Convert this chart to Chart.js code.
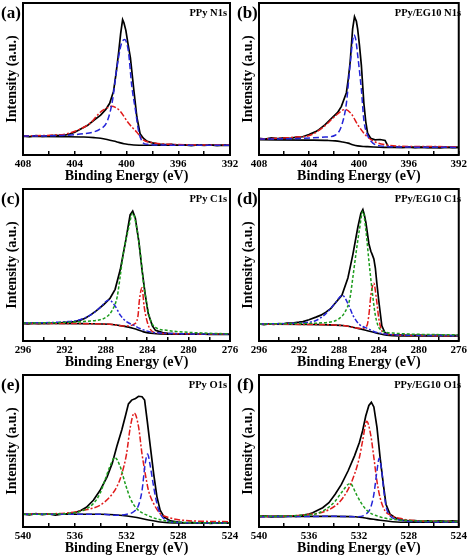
<!DOCTYPE html>
<html><head><meta charset="utf-8">
<script src="https://cdn.jsdelivr.net/npm/chart.js@4/dist/chart.umd.min.js"></script>
<style>
html,body{margin:0;padding:0;background:#fff}
body{width:474px;height:558px;position:relative;overflow:hidden;font-family:'Liberation Serif','Times New Roman',serif;font-weight:bold;color:#000}
canvas{position:absolute;display:block}
.tag{position:absolute;font-size:17px;line-height:18px;white-space:nowrap}
.nm{position:absolute;font-size:10.5px;line-height:12px;white-space:nowrap;text-align:right}
</style></head>
<body>
<script>
// ---------- data: [binding energy (eV), intensity (a.u., normalised)] ----------
// (a) PPy N1s
const aData=[[408,0.125],[407.5,0.12],[407,0.128],[406.5,0.122],[406,0.126],[405.5,0.13],[405,0.127],[404.5,0.135],[404,0.15],[403.5,0.172],[403,0.195],[402.5,0.23],[402,0.262],[401.6,0.3],[401.3,0.34],[401.0,0.42],[400.8,0.54],[400.6,0.68],[400.45,0.8],[400.3,0.89],[400.2,0.87],[400.05,0.82],[399.9,0.74],[399.7,0.64],[399.45,0.44],[399.2,0.25],[398.95,0.14],[398.7,0.11],[398.4,0.09],[398,0.08],[397.5,0.072],[397,0.068],[396.5,0.07],[396,0.064],[395.5,0.066],[395,0.062],[394.5,0.066],[394,0.063],[393.5,0.067],[393,0.062],[392.5,0.065],[392,0.063]];
const aBg=[[408,0.122],[405,0.12],[403.3,0.118],[402.5,0.114],[402,0.11],[401.5,0.102],[401,0.092],[400.6,0.083],[400.2,0.074],[399.8,0.069],[399.45,0.066],[398.5,0.064],[392,0.064]];
const aBlue=[[408,0.125],[406,0.126],[404.6,0.13],[403.3,0.14],[402.6,0.15],[402.05,0.17],[401.5,0.22],[401.1,0.35],[400.75,0.57],[400.4,0.73],[400.15,0.76],[399.85,0.68],[399.6,0.46],[399.3,0.29],[399.07,0.16],[398.8,0.09],[398.4,0.07],[397,0.065],[392,0.064]];
const aRed=[[408,0.125],[405.9,0.13],[404.6,0.14],[403.6,0.17],[402.8,0.21],[402.05,0.28],[401.5,0.31],[401.15,0.32],[400.8,0.31],[400.5,0.29],[399.85,0.21],[399.2,0.15],[398.7,0.10],[397.9,0.08],[396.5,0.07],[392,0.065]];
// (b) PPy/EG10 N1s
const bData=[[408,0.11],[407.5,0.105],[407,0.112],[406.5,0.108],[406,0.113],[405.5,0.11],[405,0.117],[404.5,0.12],[404,0.135],[403.5,0.152],[403.2,0.167],[402.7,0.2],[402.15,0.245],[401.7,0.28],[401.4,0.32],[401.0,0.41],[400.85,0.5],[400.7,0.61],[400.5,0.83],[400.35,0.91],[400.2,0.88],[400.1,0.83],[399.95,0.72],[399.8,0.59],[399.6,0.34],[399.45,0.22],[399.3,0.144],[399.06,0.11],[398.7,0.1],[398.3,0.102],[397.9,0.096],[397.65,0.055],[397.2,0.052],[396.5,0.05],[396,0.053],[395.5,0.048],[395,0.052],[394.5,0.049],[394,0.05],[393.5,0.047],[393,0.051],[392.5,0.048],[392,0.05]];
const bBg=[[408,0.1],[404,0.098],[402.5,0.096],[401.9,0.093],[401.3,0.085],[400.86,0.078],[400.5,0.068],[400.1,0.06],[399.6,0.056],[399.3,0.055],[398,0.05],[392,0.05]];
const bBlue=[[408,0.105],[405,0.108],[402.7,0.118],[401.9,0.13],[401.4,0.19],[401.0,0.34],[400.73,0.57],[400.5,0.75],[400.4,0.79],[400.25,0.76],[400.1,0.66],[399.8,0.43],[399.6,0.23],[399.3,0.13],[398.9,0.08],[398.3,0.06],[396,0.052],[392,0.05]];
const bRed=[[408,0.105],[405,0.118],[403.9,0.13],[402.9,0.18],[401.9,0.256],[401.4,0.29],[401.1,0.30],[400.6,0.27],[400.1,0.2],[399.45,0.13],[398.8,0.09],[397.8,0.067],[396,0.056],[392,0.055]];
// (c) PPy C1s
const cData=[[296,0.116],[295.5,0.112],[295,0.118],[294.5,0.114],[294,0.117],[293.5,0.115],[293,0.12],[292.5,0.118],[292,0.122],[291.5,0.124],[291,0.128],[290.5,0.136],[290,0.15],[289.5,0.17],[288.9,0.2],[288.2,0.24],[287.6,0.28],[287.1,0.34],[286.6,0.47],[286.1,0.65],[285.65,0.83],[285.4,0.855],[285.15,0.81],[284.8,0.65],[284.5,0.47],[284.2,0.31],[283.9,0.18],[283.5,0.1],[283.2,0.07],[282.5,0.055],[282,0.05],[281,0.047],[280,0.045],[279,0.046],[278,0.043],[277,0.045],[276,0.043]];
const cBg=[[296,0.116],[290,0.114],[287.6,0.11],[286.3,0.098],[285.3,0.082],[284.35,0.06],[283.4,0.049],[282,0.045],[276,0.044]];
const cGreen=[[296,0.118],[292,0.122],[289.85,0.13],[288.55,0.14],[287.9,0.16],[287.4,0.2],[286.9,0.29],[286.6,0.43],[286.3,0.58],[285.8,0.74],[285.4,0.84],[285.0,0.74],[284.67,0.58],[284.35,0.38],[284.0,0.23],[283.7,0.14],[283.2,0.09],[282.1,0.07],[278.8,0.053],[276,0.047]];
const cBlue=[[296,0.118],[291.8,0.127],[290.5,0.14],[289.5,0.17],[288.55,0.22],[287.7,0.27],[287.1,0.23],[286.6,0.17],[286.0,0.127],[285.3,0.104],[284.7,0.082],[283.7,0.06],[282,0.05],[276,0.045]];
const cRed=[[296,0.116],[290,0.114],[287.6,0.11],[286.0,0.098],[285.3,0.11],[284.9,0.16],[284.75,0.27],[284.5,0.35],[284.3,0.23],[284.0,0.127],[283.7,0.076],[283.05,0.053],[280,0.047],[276,0.046]];
// (d) PPy/EG10 C1s
const dData=[[296,0.112],[295.5,0.108],[295,0.113],[294.5,0.11],[294,0.115],[293.5,0.113],[293.2,0.117],[292.5,0.12],[292,0.124],[291.6,0.128],[291,0.14],[290.3,0.157],[289.8,0.17],[289.3,0.19],[288.8,0.215],[288.4,0.247],[287.7,0.3],[287.1,0.415],[286.6,0.57],[286.1,0.75],[285.8,0.84],[285.6,0.865],[285.45,0.83],[285.3,0.78],[285.0,0.64],[284.8,0.59],[284.67,0.57],[284.5,0.54],[284.35,0.48],[284.2,0.38],[284.0,0.26],[283.7,0.10],[283.4,0.056],[283,0.042],[282,0.04],[281,0.037],[280,0.038],[279,0.036],[278,0.038],[277,0.035],[276,0.037]];
const dBg=[[296,0.11],[290,0.108],[287.4,0.1],[286.1,0.083],[285.15,0.067],[284.2,0.052],[283.2,0.038],[282,0.034],[276,0.034]];
const dGreen=[[296,0.112],[292,0.115],[289.0,0.124],[288.0,0.146],[287.4,0.19],[286.9,0.28],[286.6,0.42],[286.3,0.57],[285.95,0.73],[285.6,0.854],[285.3,0.73],[285.0,0.53],[284.67,0.33],[284.35,0.17],[283.9,0.079],[282.6,0.052],[276,0.04]];
const dBlue=[[296,0.112],[291.6,0.12],[290.3,0.135],[289.3,0.18],[288.4,0.247],[287.65,0.30],[287.1,0.247],[286.6,0.17],[286.0,0.112],[285.15,0.083],[284.2,0.056],[282,0.04],[276,0.035]];
const dRed=[[296,0.11],[290,0.108],[287.4,0.1],[285.8,0.083],[285.2,0.10],[285.0,0.17],[284.8,0.30],[284.5,0.38],[284.25,0.28],[284.0,0.146],[283.7,0.067],[283.2,0.045],[280,0.036],[276,0.035]];
// (e) PPy O1s
const eData=[[540,0.084],[539.5,0.08],[539,0.088],[538.5,0.082],[538,0.086],[537.5,0.078],[537,0.084],[536.5,0.088],[536,0.094],[535.5,0.11],[535.1,0.13],[534.56,0.176],[534.05,0.24],[533.5,0.33],[533.1,0.42],[532.75,0.53],[532.36,0.64],[532.1,0.725],[531.85,0.81],[531.6,0.835],[531.3,0.846],[531.07,0.86],[530.8,0.857],[530.6,0.835],[530.4,0.7],[530.16,0.53],[529.9,0.35],[529.65,0.2],[529.4,0.11],[529.1,0.066],[528.6,0.04],[528,0.032],[527.5,0.028],[527,0.03],[526.5,0.025],[526,0.028],[525.5,0.024],[525,0.027],[524.5,0.025],[524,0.026]];
const eBg=[[540,0.084],[534,0.084],[532.5,0.077],[531.45,0.066],[530.4,0.048],[529.4,0.033],[528.35,0.026],[524,0.026]];
const eGreen=[[540,0.084],[536.6,0.088],[535.34,0.11],[534.56,0.154],[534.05,0.22],[533.66,0.31],[533.27,0.4],[532.9,0.457],[532.5,0.4],[532.1,0.286],[531.7,0.187],[531.2,0.12],[530.4,0.077],[529.4,0.048],[528.35,0.033],[524,0.026]];
const eRed=[[540,0.084],[536.6,0.092],[535.34,0.11],[534.05,0.143],[533.27,0.2],[532.75,0.264],[532.36,0.35],[532.0,0.48],[531.7,0.66],[531.4,0.75],[531.07,0.66],[530.8,0.48],[530.55,0.35],[530.3,0.24],[529.9,0.154],[529.4,0.088],[528.87,0.066],[527.6,0.044],[524,0.035]];
const eBlue=[[540,0.084],[534,0.084],[532.75,0.077],[531.97,0.084],[531.45,0.1],[531.07,0.143],[530.8,0.24],[530.55,0.42],[530.37,0.48],[530.16,0.40],[529.9,0.264],[529.65,0.154],[529.4,0.088],[529.0,0.048],[528,0.03],[524,0.026]];
// (f) PPy/EG10 O1s
const fData=[[540,0.068],[539.5,0.072],[539,0.066],[538.5,0.07],[538,0.068],[537.5,0.073],[537,0.07],[536.46,0.079],[536,0.085],[535.7,0.094],[534.9,0.127],[534.4,0.16],[533.9,0.215],[533.4,0.28],[532.86,0.37],[532.35,0.468],[531.96,0.556],[531.7,0.633],[531.45,0.73],[531.2,0.8],[531.0,0.82],[530.8,0.79],[530.55,0.655],[530.3,0.457],[530.04,0.28],[529.83,0.15],[529.5,0.084],[529.0,0.057],[528.5,0.045],[528,0.04],[527.5,0.042],[527,0.038],[526.5,0.041],[526,0.037],[525.5,0.04],[525,0.038],[524.5,0.04],[524,0.038]];
const fBg=[[540,0.07],[534,0.07],[532.3,0.067],[531.3,0.057],[530.3,0.044],[529.3,0.035],[528,0.031],[524,0.031]];
const fGreen=[[540,0.07],[535.7,0.083],[534.66,0.116],[533.9,0.17],[533.4,0.226],[532.7,0.286],[532.2,0.215],[531.83,0.16],[531.3,0.105],[530.55,0.073],[529.27,0.05],[524,0.035]];
const fRed=[[540,0.068],[536.46,0.079],[534.66,0.105],[533.6,0.16],[532.86,0.248],[532.35,0.347],[531.96,0.457],[531.7,0.567],[531.37,0.695],[531.06,0.61],[530.8,0.457],[530.55,0.30],[530.3,0.193],[529.9,0.105],[529.5,0.079],[528.75,0.057],[527,0.04],[524,0.035]];
const fBlue=[[540,0.068],[534,0.07],[532.1,0.068],[531.45,0.083],[531.06,0.127],[530.8,0.215],[530.55,0.37],[530.37,0.453],[530.17,0.37],[530.0,0.237],[529.8,0.127],[529.5,0.073],[529.0,0.05],[527,0.035],[524,0.033]];

// ---------- axis ranges, tags and titles ----------
const N1sRange=[392,408], C1sRange=[276,296], O1sRange=[524,540];
const panelTags=['(a)','(b)','(c)','(d)','(e)','(f)'];
const panelNames=['PPy N1s','PPy/EG10 N1s','PPy C1s','PPy/EG10 C1s','PPy O1s','PPy/EG10 O1s'];
const xTitle='Binding Energy (eV)', yTitle='Intensity (a.u.)';

// ---------- styles ----------
const F="'Liberation Serif','Times New Roman',serif";
const ST={
  data:{c:'#000',w:1.7,d:[],o:9,t:0},
  bg:{c:'#000',w:1.6,d:[],o:8,t:0.3},
  blueDash:{c:'#2424d8',w:1.5,d:[6,3],o:2,t:0.35},
  blueDashDot:{c:'#2424d8',w:1.5,d:[5,2,2,2],o:2,t:0.35},
  redDashDot:{c:'#e01a1a',w:1.5,d:[6,2,2,2],o:3,t:0.35},
  greenDot:{c:'#1c9c1c',w:1.5,d:[3,2],o:1,t:0.35}
};

const panels=[
  {range:N1sRange,series:[[aData,'data'],[aBg,'bg'],[aRed,'redDashDot'],[aBlue,'blueDash']]},
  {range:N1sRange,series:[[bData,'data'],[bBg,'bg'],[bRed,'redDashDot'],[bBlue,'blueDash']]},
  {range:C1sRange,series:[[cData,'data'],[cBg,'bg'],[cBlue,'blueDashDot'],[cRed,'redDashDot'],[cGreen,'greenDot']]},
  {range:C1sRange,series:[[dData,'data'],[dBg,'bg'],[dBlue,'blueDashDot'],[dRed,'redDashDot'],[dGreen,'greenDot']]},
  {range:O1sRange,series:[[eData,'data'],[eBg,'bg'],[eGreen,'greenDot'],[eRed,'redDashDot'],[eBlue,'blueDash']]},
  {range:O1sRange,series:[[fData,'data'],[fBg,'bg'],[fGreen,'greenDot'],[fRed,'redDashDot'],[fBlue,'blueDash']]}
];

const framePlugin={id:'frame',afterDraw(c){const {ctx,chartArea:a}=c;ctx.save();ctx.strokeStyle='#000';ctx.lineWidth=2;ctx.strokeRect(a.left,a.top,a.right-a.left,a.bottom-a.top);ctx.restore();}};

panels.forEach((p,i)=>{
  const col=i%2,row=Math.floor(i/2);
  const X=col?237:0, Y=row*186, W=col?237:250, H=186;
  const cv=document.createElement('canvas');
  cv.width=W;cv.height=H;cv.style.left=X+'px';cv.style.top=Y+'px';cv.style.width=W+'px';cv.style.height=H+'px';
  document.body.appendChild(cv);
  const yw=col?22:23, padR=col?9:20;
  new Chart(cv,{
    type:'line',
    data:{datasets:p.series.map(([arr,k])=>{const s=ST[k];return{data:arr,borderColor:s.c,borderWidth:s.w,borderDash:s.d,order:s.o,tension:s.t,cubicInterpolationMode:k==='data'?'default':'monotone',pointRadius:0,fill:false};})},
    options:{
      responsive:false,animation:false,devicePixelRatio:1,events:[],
      layout:{padding:{top:3,right:padR,bottom:0,left:0}},
      plugins:{legend:{display:false},tooltip:{enabled:false}},
      scales:{
        x:{type:'linear',reverse:true,min:p.range[0],max:p.range[1],
          ticks:{stepSize:2,autoSkip:false,maxRotation:0,color:'#000',padding:7,font:{family:F,size:11,weight:'bold'},callback:v=>v%4===0?String(v):''},
          grid:{drawOnChartArea:false,drawTicks:true,tickLength:-4,color:'#000',lineWidth:1.5},
          border:{display:false},
          title:{display:true,text:xTitle,color:'#000',font:{family:F,size:14,weight:'bold'},padding:{top:0,bottom:1}},
          afterFit(s){s.height=31;}
        },
        y:{min:0,max:1,ticks:{display:false},grid:{display:false},border:{display:false},
          title:{display:true,text:yTitle,color:'#000',font:{family:F,size:14,weight:'bold'},padding:{top:col?3:4,bottom:0}},
          afterFit(s){s.width=yw;}
        }
      }
    },
    plugins:[framePlugin]
  });
  const tag=document.createElement('div');tag.className='tag';tag.textContent=panelTags[i];
  tag.style.left=(X+(col?0:1))+'px';tag.style.top=(Y+4)+'px';document.body.appendChild(tag);
  const nm=document.createElement('div');nm.className='nm';nm.textContent=panelNames[i];
  nm.style.right=(474-(col?461:227))+'px';nm.style.top=(Y+7)+'px';document.body.appendChild(nm);
});
</script>
</body></html>
